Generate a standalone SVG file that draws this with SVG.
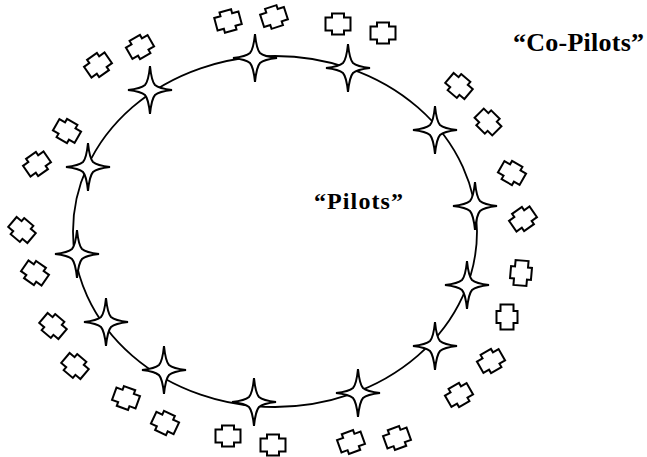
<svg xmlns="http://www.w3.org/2000/svg" xmlns:xlink="http://www.w3.org/1999/xlink" width="647" height="457" viewBox="0 0 647 457">
<style>
.ring{fill:none;stroke:#000;stroke-width:1.8}
.star{fill:#fff;stroke:#000;stroke-width:2;stroke-linejoin:miter;stroke-miterlimit:6}
.cross{fill:#fff;stroke:#000;stroke-width:2}
.lbl{font-family:"Liberation Serif","Times New Roman",serif;font-weight:bold;fill:#000}
</style>
<defs>
<path id="starShape" d="M0,-24 Q1.5,-9 5,-5 Q9,-1.5 22,0 Q9,1.5 5,5 Q1.5,9 0,24 Q-1.5,9 -5,5 Q-9,1.5 -22,0 Q-9,-1.5 -5,-5 Q-1.5,-9 0,-24 Z"/>
<path id="crossShape" d="M-6,-10.5 H6 V-6.5 H12.5 V6.5 H6 V10.5 H-6 V6.5 H-12.5 V-6.5 H-6 Z"/>
</defs>
<rect width="647" height="457" fill="#fff"/>
<g id="ring"><ellipse class="ring" cx="275" cy="231.5" rx="202" ry="175.5"/></g>
<g id="connectors"></g>
<g id="stars">
<g id="star1"><use xlink:href="#starShape" href="#starShape" class="star" transform="translate(255,58)"/></g>
<g id="star2"><use xlink:href="#starShape" href="#starShape" class="star" transform="translate(348,68)"/></g>
<g id="star3"><use xlink:href="#starShape" href="#starShape" class="star" transform="translate(435,130)"/></g>
<g id="star4"><use xlink:href="#starShape" href="#starShape" class="star" transform="translate(475,206)"/></g>
<g id="star5"><use xlink:href="#starShape" href="#starShape" class="star" transform="translate(467,285)"/></g>
<g id="star6"><use xlink:href="#starShape" href="#starShape" class="star" transform="translate(435,346)"/></g>
<g id="star7"><use xlink:href="#starShape" href="#starShape" class="star" transform="translate(358,393)"/></g>
<g id="star8"><use xlink:href="#starShape" href="#starShape" class="star" transform="translate(254,402)"/></g>
<g id="star9"><use xlink:href="#starShape" href="#starShape" class="star" transform="translate(164,370)"/></g>
<g id="star10"><use xlink:href="#starShape" href="#starShape" class="star" transform="translate(106,322)"/></g>
<g id="star11"><use xlink:href="#starShape" href="#starShape" class="star" transform="translate(77,254)"/></g>
<g id="star12"><use xlink:href="#starShape" href="#starShape" class="star" transform="translate(88,167)"/></g>
<g id="star13"><use xlink:href="#starShape" href="#starShape" class="star" transform="translate(150,90)"/></g>
</g>
<g id="crosses">
<g id="cross1"><use xlink:href="#crossShape" href="#crossShape" class="cross" transform="translate(228,21) rotate(-15)"/></g>
<g id="cross2"><use xlink:href="#crossShape" href="#crossShape" class="cross" transform="translate(274,17) rotate(-18)"/></g>
<g id="cross3"><use xlink:href="#crossShape" href="#crossShape" class="cross" transform="translate(338,24)"/></g>
<g id="cross4"><use xlink:href="#crossShape" href="#crossShape" class="cross" transform="translate(383,33)"/></g>
<g id="cross5"><use xlink:href="#crossShape" href="#crossShape" class="cross" transform="translate(459,86) rotate(40)"/></g>
<g id="cross6"><use xlink:href="#crossShape" href="#crossShape" class="cross" transform="translate(488,122) rotate(45)"/></g>
<g id="cross7"><use xlink:href="#crossShape" href="#crossShape" class="cross" transform="translate(512,173) rotate(30)"/></g>
<g id="cross8"><use xlink:href="#crossShape" href="#crossShape" class="cross" transform="translate(523,219) rotate(-35)"/></g>
<g id="cross9"><use xlink:href="#crossShape" href="#crossShape" class="cross" transform="translate(521,273) rotate(95)"/></g>
<g id="cross10"><use xlink:href="#crossShape" href="#crossShape" class="cross" transform="translate(507,317) rotate(90)"/></g>
<g id="cross11"><use xlink:href="#crossShape" href="#crossShape" class="cross" transform="translate(491,361) rotate(-30)"/></g>
<g id="cross12"><use xlink:href="#crossShape" href="#crossShape" class="cross" transform="translate(459,395) rotate(-30)"/></g>
<g id="cross13"><use xlink:href="#crossShape" href="#crossShape" class="cross" transform="translate(397,438) rotate(-20)"/></g>
<g id="cross14"><use xlink:href="#crossShape" href="#crossShape" class="cross" transform="translate(351,442) rotate(-20)"/></g>
<g id="cross15"><use xlink:href="#crossShape" href="#crossShape" class="cross" transform="translate(273,445)"/></g>
<g id="cross16"><use xlink:href="#crossShape" href="#crossShape" class="cross" transform="translate(228,436)"/></g>
<g id="cross17"><use xlink:href="#crossShape" href="#crossShape" class="cross" transform="translate(165,423) rotate(25)"/></g>
<g id="cross18"><use xlink:href="#crossShape" href="#crossShape" class="cross" transform="translate(126,398) rotate(20)"/></g>
<g id="cross19"><use xlink:href="#crossShape" href="#crossShape" class="cross" transform="translate(75,366) rotate(40)"/></g>
<g id="cross20"><use xlink:href="#crossShape" href="#crossShape" class="cross" transform="translate(53,326) rotate(40)"/></g>
<g id="cross21"><use xlink:href="#crossShape" href="#crossShape" class="cross" transform="translate(35,273) rotate(35)"/></g>
<g id="cross22"><use xlink:href="#crossShape" href="#crossShape" class="cross" transform="translate(22,230) rotate(40)"/></g>
<g id="cross23"><use xlink:href="#crossShape" href="#crossShape" class="cross" transform="translate(37,164) rotate(-35)"/></g>
<g id="cross24"><use xlink:href="#crossShape" href="#crossShape" class="cross" transform="translate(67,131) rotate(30)"/></g>
<g id="cross25"><use xlink:href="#crossShape" href="#crossShape" class="cross" transform="translate(98,65) rotate(-35)"/></g>
<g id="cross26"><use xlink:href="#crossShape" href="#crossShape" class="cross" transform="translate(140,47) rotate(-30)"/></g>
</g>
<g id="label-pilots"><text class="lbl" x="314" y="209" font-size="24" textLength="89" lengthAdjust="spacing">“Pilots”</text></g>
<g id="label-copilots"><text class="lbl" x="513" y="51" font-size="26" textLength="131" lengthAdjust="spacing">“Co-Pilots”</text></g>
</svg>
